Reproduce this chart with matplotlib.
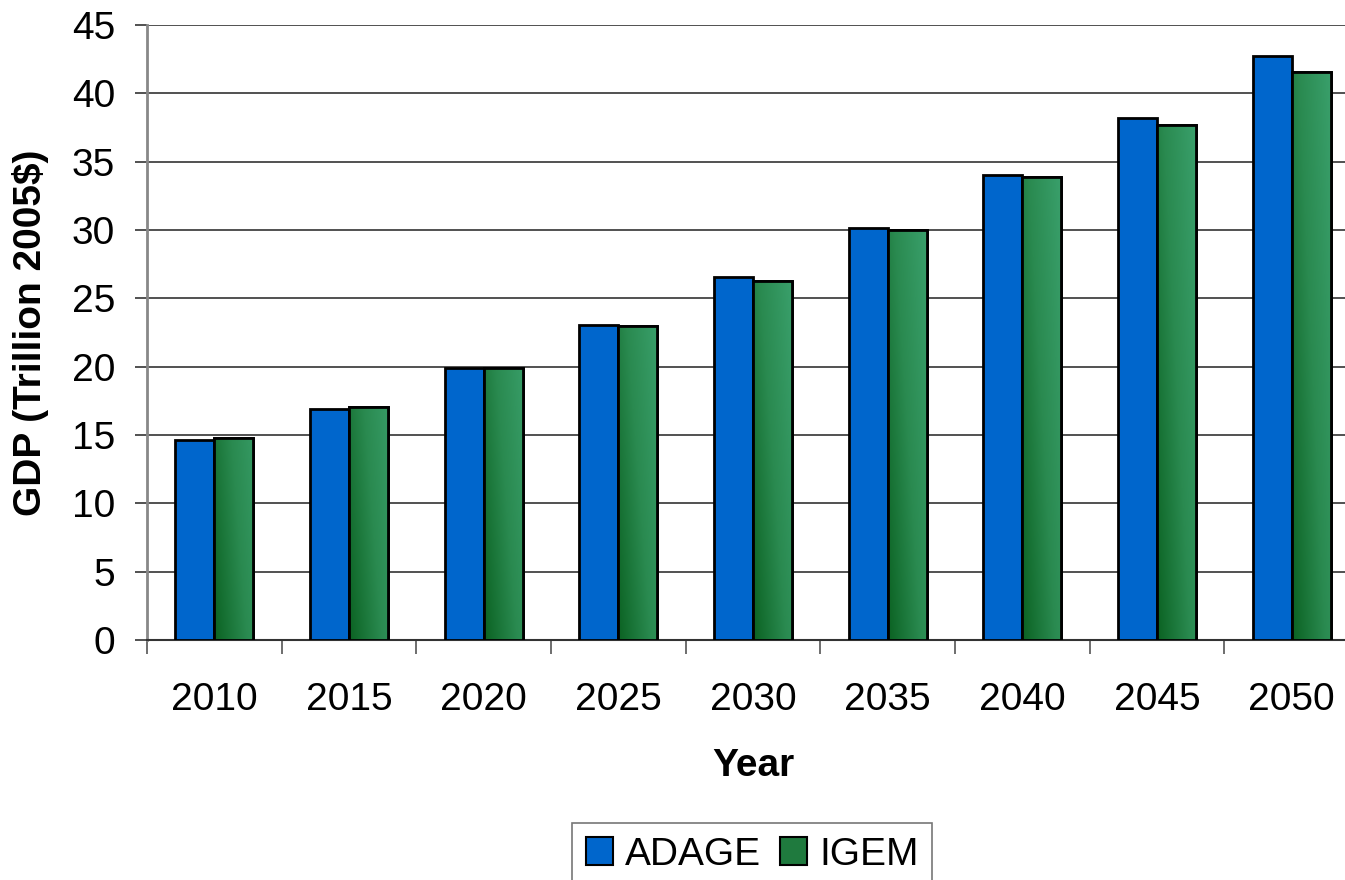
import numpy as np
import matplotlib
matplotlib.use('Agg')
import matplotlib.pyplot as plt
from matplotlib.colors import LinearSegmentedColormap
from matplotlib.patches import Patch

years = ['2010', '2015', '2020', '2025', '2030', '2035', '2040', '2045', '2050']
adage = [14.6, 16.9, 19.9, 23.05, 26.55, 30.15, 34.05, 38.2, 42.7]
igem = [14.75, 17.05, 19.9, 22.95, 26.3, 30.0, 33.9, 37.65, 41.55]

plt.rcParams['font.family'] = ['Liberation Sans', 'DejaVu Sans']

fig = plt.figure(figsize=(13.45, 8.8), dpi=100)
# plot area runs slightly past the right edge of the picture
ax = fig.add_axes([147 / 1345, 1 - 640 / 880, 1212 / 1345, 615 / 880])

x = np.arange(len(years))
w = 0.29
blue = '#0066cc'
green_cmap = LinearSegmentedColormap.from_list('g', ['#0b6222', '#2a8a50', '#3aa06c'])

ax.bar(x - w / 2, adage, w, color=blue, edgecolor='black', linewidth=2, zorder=3)
green_bars = ax.bar(x + w / 2, igem, w, color='#2a8a50', edgecolor='black', linewidth=2, zorder=3)

# gradient fill for the IGEM bars, dark bottom-left to light top-right
xx, yy = np.meshgrid(np.linspace(0, 1, 60), np.linspace(0, 1, 200))
for b in green_bars:
    bx, by = b.get_x(), b.get_y()
    bw, bh = b.get_width(), b.get_height()
    t = 0.6 * xx + 0.4 * (yy * min(1, bh / 25))
    im = ax.imshow(t, cmap=green_cmap, origin='lower', aspect='auto',
                   extent=[bx, bx + bw, by, by + bh], zorder=3.5, vmin=0, vmax=1)
    im.set_clip_path(b)
    # redraw edge on top
    ax.bar(bx + bw / 2, bh, bw, color='none', edgecolor='black', linewidth=2, zorder=4)

ax.set_xlim(-0.5, len(years) - 0.5)
ax.set_ylim(0, 45)
ax.set_yticks(range(0, 46, 5))
ax.yaxis.grid(True, color='#333333', linewidth=1.2, zorder=0)
ax.set_axisbelow(True)

ax.set_xticks(x)
ax.set_xticklabels(years, fontsize=28)
ax.set_xticks(np.arange(-0.5, len(years), 1), minor=True)
ax.tick_params(axis='x', which='major', length=0, pad=30)
ax.tick_params(axis='x', which='minor', length=10, width=1.2, color='#555555')
ax.tick_params(axis='y', labelsize=28, length=9, width=1.2, color='#333333', pad=14)

for s in ['top', 'right']:
    ax.spines[s].set_visible(False)
ax.spines['left'].set_color('#888888')
ax.spines['left'].set_linewidth(2)
ax.spines['bottom'].set_color('#333333')
ax.spines['bottom'].set_linewidth(1.5)

ax.set_xlabel('Year', fontsize=28, fontweight='bold', labelpad=22)
ax.set_ylabel('GDP (Trillion 2005$)', fontsize=28, fontweight='bold', labelpad=16)

handles = [Patch(facecolor=blue, edgecolor='black', linewidth=1.5),
           Patch(facecolor='#1f7a3e', edgecolor='black', linewidth=1.5)]
leg = fig.legend(handles, ['ADAGE', 'IGEM'], loc='upper left',
                 bbox_to_anchor=(572 / 1345, 1 - 823 / 880), fontsize=28,
                 frameon=True, fancybox=False, edgecolor='#555555',
                 ncol=2, handlelength=0.7, handleheight=0.7, handletextpad=0.3,
                 columnspacing=0.5, borderpad=0.35, borderaxespad=0)
leg.get_frame().set_linewidth(1.2)

fig.savefig('out.png', dpi=100)
